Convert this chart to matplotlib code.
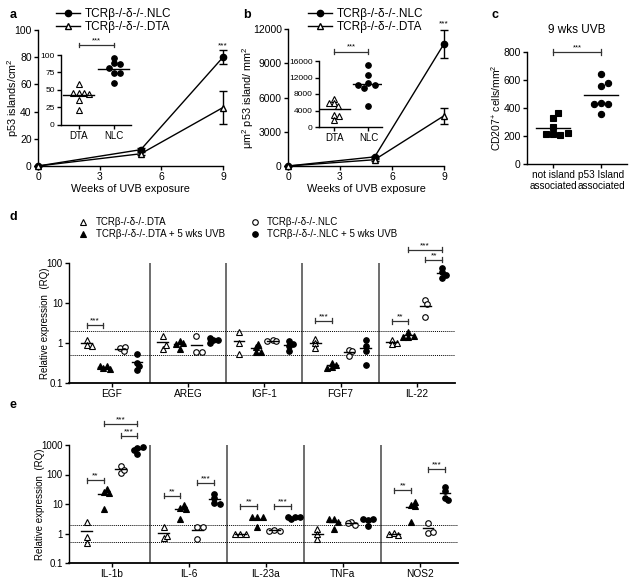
import matplotlib
matplotlib.use('Agg')
import matplotlib.pyplot as plt
from matplotlib.lines import Line2D
import numpy as np

plt.rcParams['font.family'] = ['Liberation Sans', 'DejaVu Sans']
plt.rcParams['mathtext.default'] = 'regular'

# --- Daten ---
weeks = [0, 5, 9]
a_nlc = [0, 12, 80]
a_nlc_err = [0, 1, 5]
a_dta = [0, 9, 43]
a_dta_err = [0, 1, 12]
a_in_dta = [59, 46, 46, 46, 44, 36, 22]
a_in_nlc = [96, 88, 87, 81, 74, 74, 60]

b_nlc = [0, 800, 10700]
b_nlc_err = [0, 100, 1200]
b_dta = [0, 550, 4400]
b_dta_err = [0, 80, 700]
b_in_dta = [6800, 5700, 5000, 5800, 3000, 2600, 1600]
b_in_nlc = [15000, 12600, 10600, 10200, 9400, 10200, 5000]

c_cats = ['not island\nassociated', 'p53 Island\nassociated']
c_not = [212, 205, 212, 220, 328, 363, 262]
c_p53 = [645, 560, 578, 435, 428, 428, 358]

groups = ['TCRβ-/-δ-/-.DTA', 'TCRβ-/-δ-/-.DTA + 5 wks UVB',
          'TCRβ-/-δ-/-.NLC', 'TCRβ-/-δ-/-.NLC + 5 wks UVB']

d_genes = ['EGF', 'AREG', 'IGF-1', 'FGF7', 'IL-22']
d_dta = [[1.2, 0.9, 0.85], [1.5, 0.72, 0.87], [1.85, 1.0, 0.54], [1.26, 1.0, 0.75], [1.2, 0.95, 1.0]]
d_dta_uvb = [[0.24, 0.26, 0.27, 0.23], [1.1, 1.0, 0.95, 0.71], [0.78, 0.6, 0.95, 0.6],
             [0.25, 0.29, 0.32, 0.24], [1.41, 1.52, 1.85, 1.45]]
d_nlc = [[0.75, 0.78, 0.62], [1.47, 0.58, 0.58], [1.2, 1.1, 1.15], [0.68, 0.62, 0.48], [11.7, 9.6, 4.5]]
d_nlc_uvb = [[0.54, 0.32, 0.26, 0.21], [1.17, 1.17, 1.33, 1.0], [1.1, 0.83, 0.95, 0.62],
             [1.21, 0.83, 0.62, 0.29], [75, 58, 42, 50]]
d_sig = [(0, 0, 1, 2.8, '***'), (3, 0, 1, 3.6, '***'), (4, 0, 1, 3.5, '**'),
         (4, 2, 3, 121, '**'), (4, 1, 3, 215, '***')]

e_genes = ['IL-1b', 'IL-6', 'IL-23a', 'TNFa', 'NOS2']
e_dta = [[2.5, 0.77, 0.48], [1.7, 0.68, 0.83], [1.0, 0.95, 1.0], [1.4, 0.64, 0.95], [1.05, 0.9, 0.95]]
e_dta_uvb = [[26, 32, 6.6, 24], [7.1, 9.2, 3.2, 6.6], [3.5, 3.6, 3.5, 1.6],
             [3.0, 2.5, 3.0, 1.37], [9.5, 8.5, 11.7, 2.5]]
e_nlc = [[196, 110, 140], [1.7, 1.7, 0.64], [1.3, 1.25, 1.25], [2.5, 1.95, 2.2], [2.3, 1.05, 1.15]]
e_nlc_uvb = [[790, 850, 490, 690], [22, 15.6, 11, 10], [3.0, 3.5, 3.7, 3.6],
             [2.9, 3.0, 3.0, 1.8], [37, 27, 16.5, 14]]
e_sig = [(0, 0, 1, 65, '**'), (0, 2, 3, 2080, '***'), (0, 1, 3, 5200, '***'),
         (1, 0, 1, 18.7, '**'), (1, 2, 3, 53, '***'), (2, 0, 1, 8.3, '**'),
         (2, 2, 3, 8.3, '***'), (4, 0, 1, 29.5, '**'), (4, 2, 3, 150, '***')]

W, H = 643, 581
fig = plt.figure(figsize=(W / 100, H / 100), dpi=100)


def px_axes(l, t, r, b):
    return fig.add_axes([l / W, 1 - b / H, (r - l) / W, (b - t) / H])


def style(ax, fs=7.5):
    for s in ['top', 'right']:
        ax.spines[s].set_visible(False)
    for s in ['left', 'bottom']:
        ax.spines[s].set_linewidth(1.0)
    ax.tick_params(labelsize=fs, length=3, width=1, pad=1.5)


def swarm(ypix, d, tight=0.9):
    """einfacher Beeswarm: x-Versatz in Pixeln"""
    xs = []
    for i, y in enumerate(ypix):
        for k in range(0, 30):
            cands = [0.0] if k == 0 else [k * d * 0.35, -k * d * 0.35]
            hit = None
            for c in cands:
                if all((c - xs[j]) ** 2 + (y - ypix[j]) ** 2 >= (d * tight) ** 2 for j in range(len(xs))):
                    hit = c
                    break
            if hit is not None:
                xs.append(hit)
                break
    return np.array(xs)


def dots(ax, xc, vals, marker, filled, ypx, xpx, d=5, ms=4, mean_w=0.3, log=False, tight=0.9):
    v = np.array(vals, float)
    yp = np.log10(v) * ypx if log else v * ypx
    x = xc + swarm(yp, d, tight) / xpx
    ax.plot(x, v, ls='none', marker=marker, ms=ms, mec='k', mew=0.8,
            mfc='k' if filled else 'white', clip_on=False, zorder=3)
    m = v.mean()
    ax.plot([xc - mean_w / 2, xc + mean_w / 2], [m, m], color='k', lw=1, zorder=4)


def bracket(ax, x1, x2, y, txt, log=False, cap=2.5, fs=5.5):
    if log:
        f = 10 ** (cap / 40)
        lo, hi = y / f, y * f
    else:
        lo, hi = y - cap, y + cap
    kw = dict(color='#333333', lw=0.9, clip_on=False)
    ax.plot([x1, x2], [y, y], **kw)
    ax.plot([x1, x1], [lo, hi], **kw)
    ax.plot([x2, x2], [lo, hi], **kw)
    ax.annotate(txt, (0.5 * (x1 + x2), y), xytext=(0, 0.5), textcoords='offset points',
                ha='center', va='bottom', fontsize=fs, annotation_clip=False)


# ---------- Panel a ----------
ax = px_axes(38, 30, 223, 166)
style(ax)
ax.errorbar(weeks, a_nlc, yerr=a_nlc_err, fmt='-o', color='k', ms=4.5, lw=1,
            capsize=3, capthick=1, elinewidth=1, clip_on=False, zorder=3)
ax.errorbar(weeks, a_dta, yerr=a_dta_err, fmt='-^', color='k', mfc='white', ms=5, lw=1,
            capsize=3, capthick=1, elinewidth=1, clip_on=False, zorder=3)
ax.set_xlim(0, 9)
ax.set_ylim(0, 100)
ax.set_xticks([0, 3, 6, 9])
ax.set_yticks(range(0, 101, 20))
ax.set_xlabel('Weeks of UVB exposure', fontsize=7.8, labelpad=1)
ax.set_ylabel('p53 islands/cm$^{2}$', fontsize=7.8)
ax.yaxis.set_label_coords(-0.092, 0.5)
ax.text(9, 86, '***', ha='center', va='bottom', fontsize=6)
ax.legend([Line2D([], [], color='k', marker='o', ms=4.5, lw=1),
           Line2D([], [], color='k', marker='^', mfc='white', ms=5, lw=1)],
          ['TCRβ-/-δ-/-.NLC', 'TCRβ-/-δ-/-.DTA'], loc='upper left',
          bbox_to_anchor=(56 / W, 1 - 8 / H), bbox_transform=fig.transFigure,
          frameon=False, fontsize=8.5, handlelength=2, handletextpad=0.4,
          borderpad=0, borderaxespad=0, labelspacing=0.1)

ax = px_axes(61, 55, 131, 125)
style(ax, 6)
dots(ax, 0, a_in_dta, '^', False, 0.7, 35, d=5, ms=4.5, mean_w=0.9)
dots(ax, 1, a_in_nlc, 'o', True, 0.7, 35, d=6, ms=4, mean_w=0.9)
ax.set_xlim(-0.5, 1.5)
ax.set_ylim(0, 100)
ax.set_yticks([0, 25, 50, 75, 100])
ax.set_xticks([0, 1])
ax.set_xticklabels(['DTA', 'NLC'], fontsize=7)
bracket(ax, 0, 1, 114, '***', cap=3)

# ---------- Panel b ----------
ax = px_axes(288, 29, 444, 166)
style(ax)
ax.errorbar(weeks, b_nlc, yerr=b_nlc_err, fmt='-o', color='k', ms=4.5, lw=1,
            capsize=3, capthick=1, elinewidth=1, clip_on=False, zorder=3)
ax.errorbar(weeks, b_dta, yerr=b_dta_err, fmt='-^', color='k', mfc='white', ms=5, lw=1,
            capsize=3, capthick=1, elinewidth=1, clip_on=False, zorder=3)
ax.set_xlim(0, 9)
ax.set_ylim(0, 12000)
ax.set_xticks([0, 3, 6, 9])
ax.set_yticks(range(0, 12001, 3000))
ax.set_xlabel('Weeks of UVB exposure', fontsize=7.8, labelpad=1)
ax.set_ylabel('μm$^{2}$ p53 island/ mm$^{2}$', fontsize=7.8)
ax.yaxis.set_label_coords(-0.205, 0.5)
ax.text(9, 12150, '***', ha='center', va='bottom', fontsize=6, clip_on=False)
ax.legend([Line2D([], [], color='k', marker='o', ms=4.5, lw=1),
           Line2D([], [], color='k', marker='^', mfc='white', ms=5, lw=1)],
          ['TCRβ-/-δ-/-.NLC', 'TCRβ-/-δ-/-.DTA'], loc='upper left',
          bbox_to_anchor=(308 / W, 1 - 8 / H), bbox_transform=fig.transFigure,
          frameon=False, fontsize=8.5, handlelength=2, handletextpad=0.4,
          borderpad=0, borderaxespad=0, labelspacing=0.1)

ax = px_axes(319, 61, 382, 127)
style(ax, 6)
dots(ax, 0, b_in_dta, '^', False, 66 / 16000, 35, d=5, ms=4.5, mean_w=0.9)
dots(ax, 1, b_in_nlc, 'o', True, 66 / 16000, 35, d=6, ms=4, mean_w=0.9)
ax.set_xlim(-0.45, 1.4)
ax.set_ylim(0, 16000)
ax.set_yticks(range(0, 16001, 4000))
ax.set_xticks([0, 1])
ax.set_xticklabels(['DTA', 'NLC'], fontsize=7)
bracket(ax, 0, 1, 18300, '***', cap=700)

# ---------- Panel c ----------
ax = px_axes(527, 52, 627, 164)
style(ax)
dots(ax, 0, c_not, 's', True, 0.14, 48, d=7, ms=4.5, mean_w=0.7)
dots(ax, 1, c_p53, 'o', True, 0.14, 48, d=7, ms=4.5, mean_w=0.7)
ax.set_xlim(-0.54, 1.54)
ax.set_ylim(0, 800)
ax.set_yticks(range(0, 801, 200))
ax.set_xticks([0, 1])
ax.set_xticklabels(c_cats, fontsize=7.2, linespacing=1.1)
ax.set_ylabel('CD207$^{+}$ cells/mm$^{2}$', fontsize=7.5)
ax.yaxis.set_label_coords(-0.24, 0.5)
ax.set_title('9 wks UVB', fontsize=8.5, pad=14)
bracket(ax, 0, 1, 800, '***', cap=18)

# ---------- Panels d / e ----------
offs = [-0.33, -0.11, 0.11, 0.33]
mk = [('^', False), ('^', True), ('o', False), ('o', True)]


def expr_panel(box, genes, sets, sigs, ytop, dec_px, ylx):
    ax = px_axes(*box)
    style(ax, 7)
    ax.set_yscale('log')
    ax.set_ylim(0.1, ytop)
    ax.set_xlim(-0.56, 4.5)
    ax.minorticks_off()
    ax.yaxis.set_major_formatter(matplotlib.ticker.FuncFormatter(lambda v, p: '%g' % v))
    ax.spines['bottom'].set_linewidth(1.3)
    cat_px = (box[2] - box[0]) / 5.06
    for i in range(len(genes)):
        for g in range(4):
            dots(ax, i + offs[g], sets[g][i], mk[g][0], mk[g][1], dec_px, cat_px,
                 d=5, ms=4, mean_w=0.14, log=True, tight=0.75)
    for s in [0.5, 1.5, 2.5, 3.5]:
        ax.axvline(s, color='#555555', lw=1.2)
    for h in [2, 0.5]:
        ax.axhline(h, color='k', lw=0.7, ls=(0, (1, 1)))
    ax.set_xticks(range(len(genes)))
    ax.set_xticklabels(genes, fontsize=7.3)
    ax.set_ylabel('Relative expression  (RQ)', fontsize=7)
    ax.yaxis.set_label_coords(ylx, 0.5)
    for gi, g1, g2, y, t in sigs:
        bracket(ax, gi + offs[g1], gi + offs[g2], y, t, log=True, cap=2.5 * 40 / dec_px, fs=6)
    return ax


expr_panel((69, 263, 455, 383), d_genes, [d_dta, d_dta_uvb, d_nlc, d_nlc_uvb], d_sig, 100, 40, -0.049)
expr_panel((69, 445, 458, 563), e_genes, [e_dta, e_dta_uvb, e_nlc, e_nlc_uvb], e_sig, 1000, 29.4, -0.062)

# Legende d
hd = [Line2D([], [], ls='none', marker=m, ms=4, mec='k', mew=0.8, mfc='k' if f else 'white')
      for m, f in mk]
fig.legend(hd, groups, loc='upper left', bbox_to_anchor=(78 / W, 1 - 217 / H), ncol=2,
           frameon=False, fontsize=7, handlelength=1, handletextpad=0.8,
           columnspacing=2.6, borderpad=0, borderaxespad=0, labelspacing=0.2)

# Buchstaben
for t, x, y in [('a', 13, 15), ('b', 247, 15), ('c', 495, 15), ('d', 13, 217), ('e', 13, 405)]:
    fig.text(x / W, 1 - y / H, t, fontsize=9, fontweight='bold', va='center', ha='center')

plt.savefig('out.png', dpi=100)
